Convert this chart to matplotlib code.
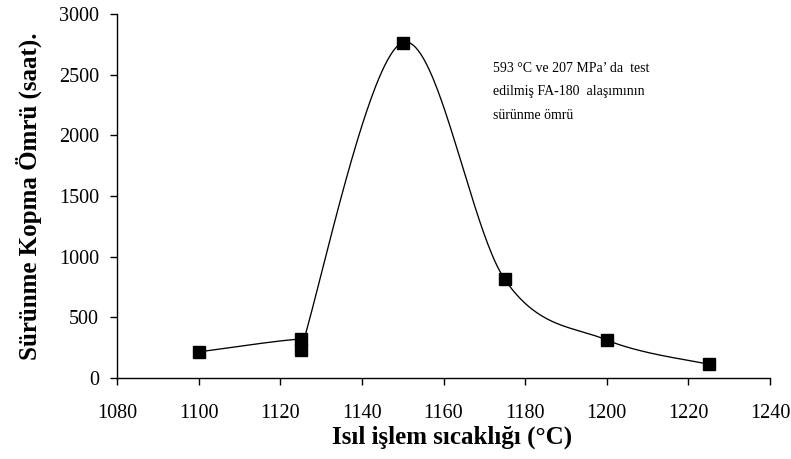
import numpy as np
import matplotlib
matplotlib.use("Agg")
import matplotlib.pyplot as plt

# Creep rupture life vs. heat-treatment temperature (FA-180 alloy, 593 °C / 207 MPa)
# Points are listed in the order the smoothed curve passes through them.
temps = [1100, 1125, 1125, 1150, 1175, 1200, 1225]
life_hours = [215, 320, 230, 2765, 813, 313, 113]

x_ticks = [1080, 1100, 1120, 1140, 1160, 1180, 1200, 1220, 1240]
y_ticks = [0, 500, 1000, 1500, 2000, 2500, 3000]

plt.rcParams['font.family'] = ['Liberation Serif', 'DejaVu Serif']

W, H = 791, 459
fig = plt.figure(figsize=(W / 100, H / 100), dpi=100)
ax = fig.add_axes([117 / W, 1 - 378 / H, (770 - 117) / W, (378 - 14) / H])
ax.set_xlim(1080, 1240)
ax.set_ylim(0, 3000)


def smooth_curve(xs, ys, n=80, tension=0.5, clamp=2.5):
    """Catmull-Rom spline in display space; each tangent is limited to a
    multiple of its segment's length so very short segments stay tight."""
    p = ax.transData.transform(np.column_stack([xs, ys]))
    k = len(p)
    t = np.linspace(0, 1, n)[:, None]
    h00 = 2 * t**3 - 3 * t**2 + 1
    h10 = t**3 - 2 * t**2 + t
    h01 = -2 * t**3 + 3 * t**2
    h11 = t**3 - t**2

    def tangent(i):
        return tension * (p[min(i + 1, k - 1)] - p[max(i - 1, 0)])

    def limit(m, L):
        mag = np.hypot(*m)
        return m * min(1.0, clamp * L / mag) if mag > 0 else m

    out = []
    for i in range(k - 1):
        p1, p2 = p[i], p[i + 1]
        L = np.hypot(*(p2 - p1))
        m1 = limit(tangent(i), L)
        m2 = limit(tangent(i + 1), L)
        out.append(h00 * p1 + h10 * m1 + h01 * p2 + h11 * m2)
    seg = np.vstack(out)
    return ax.transData.inverted().transform(seg).T


cx, cy = smooth_curve(temps, life_hours)
ax.plot(cx, cy, color='black', lw=0.95, zorder=2)
ax.plot(temps, life_hours, linestyle='none', marker='s', ms=8, color='black', zorder=3)

ax.spines['top'].set_visible(False)
ax.spines['right'].set_visible(False)
for s in ('left', 'bottom'):
    ax.spines[s].set_linewidth(1.0)
ax.set_xticks(x_ticks)
ax.set_yticks(y_ticks)
ax.tick_params(direction='out', length=5, width=1, labelsize=14.5)
ax.tick_params(axis='x', pad=13.5)
ax.tick_params(axis='y', pad=8)

fig.text(452 / W, 1 - 437 / H, 'Isıl işlem sıcaklığı (\u00b0C)',
         fontsize=18, fontweight='bold', ha='center', va='center')
fig.text(29 / W, 1 - 196 / H, 'Sürünme Kopma Ömrü (saat).',
         fontsize=18, fontweight='bold', ha='center', va='center', rotation=90)

fig.text(493 / W, 1 - 62 / H,
         '593 \u00b0C ve 207 MPa\u2019 da  test\nedilmiş FA-180  alaşımının\nsürünme ömrü',
         fontsize=10, linespacing=2.05, va='top', ha='left')

fig.savefig('out.png', dpi=100)
